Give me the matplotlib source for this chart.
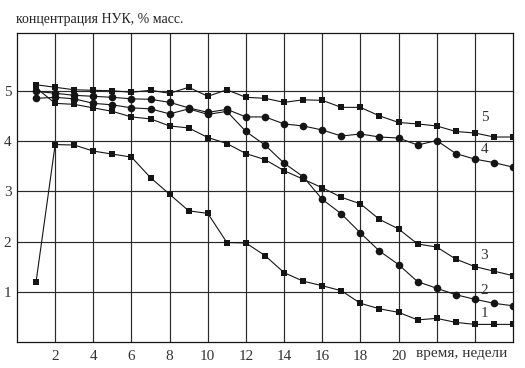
import matplotlib
matplotlib.use('Agg')

import matplotlib.pyplot as plt
import numpy as np

# weeks
weeks = list(range(1, 27))

# concentration of NUK, % mass, curves 1..5
s1 = [1.20, 3.93, 3.92, 3.80, 3.74, 3.68, 3.27, 2.94, 2.61, 2.56, 1.98, 1.97, 1.72,
      1.38, 1.21, 1.12, 1.02, 0.77, 0.66, 0.59, 0.44, 0.47, 0.39, 0.35, 0.35, 0.35]
s2 = [4.85, 4.87, 4.84, 4.75, 4.72, 4.66, 4.64, 4.54, 4.64, 4.53, 4.59, 4.19, 3.92,
      3.56, 3.29, 2.84, 2.55, 2.17, 1.81, 1.54, 1.20, 1.07, 0.94, 0.85, 0.77, 0.72]
s3 = [5.06, 4.75, 4.73, 4.66, 4.59, 4.48, 4.44, 4.30, 4.26, 4.07, 3.95, 3.75, 3.63,
      3.41, 3.24, 3.07, 2.88, 2.75, 2.44, 2.25, 1.95, 1.89, 1.65, 1.50, 1.41, 1.32]
s4 = [4.99, 4.95, 4.91, 4.89, 4.87, 4.84, 4.83, 4.77, 4.66, 4.57, 4.63, 4.48, 4.48,
      4.34, 4.30, 4.22, 4.10, 4.14, 4.08, 4.06, 3.92, 4.01, 3.75, 3.64, 3.57, 3.48]
s5 = [5.12, 5.07, 5.02, 5.01, 5.00, 4.97, 5.01, 4.95, 5.07, 4.89, 5.02, 4.87, 4.85,
      4.77, 4.82, 4.81, 4.67, 4.67, 4.50, 4.37, 4.34, 4.30, 4.19, 4.16, 4.08, 4.08]

curve_names = ["1", "2", "3", "4", "5"]
# where the curve numbers sit (week, value)
name_pos = [(24.5, 0.56), (24.5, 1.02), (24.5, 1.73), (24.5, 3.84), (24.5, 4.46)]

x_ticks = [2, 4, 6, 8, 10, 12, 14, 16, 18, 20, 22, 24]
x_labels = ["2", "4", "6", "8", "10", "12", "14", "16", "18", "20", "", ""]
y_ticks = [1, 2, 3, 4, 5]

title = "концентрация НУК, % масс."
x_title = "время, недели"

plt.rcParams['font.family'] = ['Liberation Serif', 'DejaVu Serif']

fig = plt.figure(figsize=(5.25, 3.68), dpi=100)
ax = fig.add_axes([0.0324, 0.0707, 0.9448, 0.8396])

ink = '#151515'

# grid
for xv in x_ticks:
	ax.axvline(xv, color='#2a2a2a', lw=0.85, zorder=1)
for yv in y_ticks:
	ax.axhline(yv, color='#2a2a2a', lw=0.85, zorder=1)

series = [s1, s2, s3, s4, s5]
markers = ['s', 'o', 's', 'o', 's']
sizes = [3.8, 5.5, 3.8, 5.5, 3.8]
for vals, m, ms in zip(series, markers, sizes):
	ax.plot(weeks, vals, color=ink, lw=0.8, marker=m, markersize=ms,
		markeredgewidth=0, zorder=3)

for name, (xp, yp) in zip(curve_names, name_pos):
	ax.text(xp, yp, name, fontsize=11, color='#333333', ha='center', va='center')

ax.set_xlim(0, 26)
ax.set_ylim(0, 6.15)
ax.set_xticks(x_ticks)
ax.set_xticklabels(x_labels)
ax.set_yticks(y_ticks)
ax.tick_params(length=0, labelsize=11, colors='#333333', pad=6)
ax.tick_params(axis='y', pad=4)
for sp in ax.spines.values():
	sp.set_color(ink)
	sp.set_linewidth(0.9)

fig.text(16 / 525, 1 - 19 / 368, title, fontsize=10, color='#222222',
	ha='left', va='center')
ax.text(23.3, -0.1, x_title, fontsize=11, color='#333333', ha='center', va='top')

plt.savefig("out.png", dpi=100)
